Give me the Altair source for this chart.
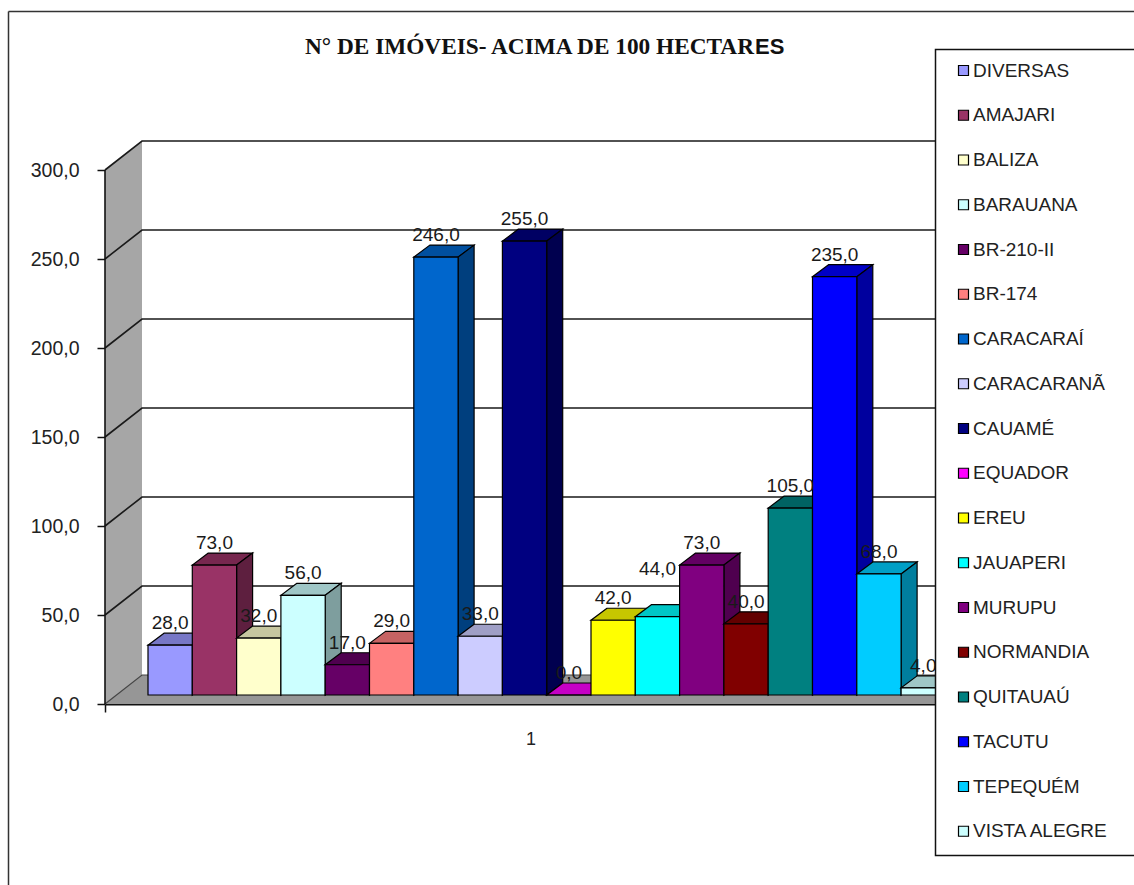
import altair as alt
import pandas as pd

# Series of the chart, one bar per municipality
names = ["DIVERSAS", "AMAJARI", "BALIZA", "BARAUANA", "BR-210-II", "BR-174",
         "CARACARAÍ", "CARACARANÃ", "CAUAMÉ", "EQUADOR", "EREU", "JAUAPERI",
         "MURUPU", "NORMANDIA", "QUITAUAÚ", "TACUTU", "TEPEQUÉM", "VISTA ALEGRE"]
values = [28, 73, 32, 56, 17, 29, 246, 33, 255, 0, 42, 44, 73, 40, 105, 235, 68, 4]
colors = ["#9999FF", "#993366", "#FFFFCC", "#CCFFFF", "#660066", "#FF8080",
          "#0066CC", "#CCCCFF", "#000080", "#FF00FF", "#FFFF00", "#00FFFF",
          "#800080", "#800000", "#008080", "#0000FF", "#00CCFF", "#CCFFFF"]
levels = [50, 100, 150, 200, 250, 300]
ticks = [0, 50, 100, 150, 200, 250, 300]

# Canvas layout, in pixels
LEFT, TOP, RIGHT, BOTTOM = 105, 140, 1134, 704
PX_X = 44.3          # one bar slot
PX_Y = 1.78          # one unit of the value axis
X0 = 148             # left edge of the first bar
WIDTH, HEIGHT = RIGHT - LEFT, BOTTOM - TOP


def sx(px):
    return (px - X0) / PX_X


def sy(px):
    return px / PX_Y


# 3D offsets expressed in axis units
WALL_X, WALL_Y = sx(142), sy(29)
AXIS_X = sx(LEFT)
END_X = sx(1000)
BAR_BASE = sy(9)
DEPTH_X, DEPTH_Y = 16 / PX_X, sy(12)
LABEL_LIFT = {"JAUAPERI": sy(26)}   # this label sits clear of its neighbour

x_scale = alt.Scale(domain=[sx(LEFT), sx(RIGHT)], nice=False, zero=False)
y_scale = alt.Scale(domain=[0, sy(HEIGHT)], nice=False, zero=False)
x_axis = alt.Axis(values=[AXIS_X], labels=False, title=None, tickSize=8, tickColor="#111111",
                  tickWidth=1.5, domainColor="#111111", domainWidth=2.2, grid=False, orient="bottom")
y_axis = alt.Axis(values=ticks, title=None, grid=False, domain=False, tickSize=8,
                  tickColor="#111111", tickWidth=1.5, labelFontSize=19.5,
                  labelFont="Liberation Sans", labelColor="#222222", labelPadding=18,
                  labelExpr="replace(format(datum.value, '.1f'), '.', ',')")
X = lambda f="x": alt.X(f"{f}:Q", scale=x_scale, axis=x_axis)
Y = lambda f="y": alt.Y(f"{f}:Q", scale=y_scale, axis=y_axis)


def shade(color, k):
    r, g, b = (int(color[i:i + 2], 16) for i in (1, 3, 5))
    return "#%02x%02x%02x" % (int(r * k), int(g * k), int(b * k))


fronts, tops, sides = [], [], []
for i, (n, v, c) in enumerate(zip(names, values, colors)):
    fronts.append(dict(name=n, x=i, x2=i + 1, y=BAR_BASE, y2=BAR_BASE + v,
                       label=f"{v},0", cx=i + 0.5,
                       ly=BAR_BASE + v + DEPTH_Y + LABEL_LIFT.get(n, 0)))
    for k in (0, 1):
        tops.append(dict(name=n, fill=shade(c, 0.78),
                         y=BAR_BASE + v + k * DEPTH_Y,
                         x=i + k * DEPTH_X, x2=i + 1 + k * DEPTH_X))
        sides.append(dict(name=n, fill=shade(c, 0.62),
                          x=i + 1 + k * DEPTH_X,
                          y=BAR_BASE + k * DEPTH_Y,
                          y2=BAR_BASE + v + k * DEPTH_Y))
fronts, tops, sides = map(pd.DataFrame, (fronts, tops, sides))

wall = pd.DataFrame([dict(x=AXIS_X, y=0, y2=300), dict(x=WALL_X, y=WALL_Y, y2=300 + WALL_Y)])
floor = pd.DataFrame([dict(y=0, x=AXIS_X, x2=END_X), dict(y=WALL_Y, x=WALL_X, x2=END_X)])
grid = pd.DataFrame([p for lv in levels for p in (
    dict(level=lv, order=0, x=AXIS_X, y=lv),
    dict(level=lv, order=1, x=WALL_X, y=lv + WALL_Y),
    dict(level=lv, order=2, x=END_X, y=lv + WALL_Y))])
back_floor = pd.DataFrame([dict(x=AXIS_X, y=0, o=0), dict(x=WALL_X, y=WALL_Y, o=1), dict(x=END_X, y=WALL_Y, o=2)])
axis_line = pd.DataFrame([dict(x=AXIS_X, y=0, y2=300)])

wall_mark = alt.Chart(wall).mark_area(orient="vertical", fill="#a6a6a6").encode(
    x=X(), y=Y(), y2="y2:Q")
floor_mark = alt.Chart(floor).mark_area(orient="horizontal", fill="#969696").encode(
    y=Y(), x=X(), x2="x2:Q")
grid_mark = alt.Chart(grid).mark_line(color="#1a1a1a", strokeWidth=1.6).encode(
    x=X(), y=Y(), detail="level:N", order="order:Q")
floor_line = alt.Chart(back_floor).mark_line(color="#444444", strokeWidth=1.2).encode(
    x=X(), y=Y(), order="o:Q")
axis_mark = alt.Chart(axis_line).mark_rule(color="#111111", strokeWidth=1.6).encode(
    x=X(), y=Y(), y2="y2:Q")

legend = alt.Legend(
    orient="none", legendX=849, legendY=-79, title=None,
    symbolType="square", symbolSize=100, symbolStrokeColor="#000000",
    symbolStrokeWidth=1.2, symbolOpacity=1, labelFontSize=19,
    labelFont="Liberation Sans", labelColor="#222222", labelOffset=0,
    rowPadding=24.75, labelLimit=220, padding=0, columns=1, values=names)

# Each bar is painted whole, left to right, so a bar hides the faces of the one before it
bar_layers = []
for n in names:
    bar_layers.append(alt.Chart(tops[tops.name == n]).mark_area(
        orient="horizontal", stroke="#000000", strokeWidth=1.2
    ).encode(y=Y(), x=X(), x2="x2:Q", fill=alt.Fill("fill:N", scale=None)))
    bar_layers.append(alt.Chart(sides[sides.name == n]).mark_area(
        orient="vertical", stroke="#000000", strokeWidth=1.2
    ).encode(x=X(), y=Y(), y2="y2:Q", fill=alt.Fill("fill:N", scale=None)))
    bar_layers.append(alt.Chart(fronts[fronts.name == n]).mark_rect(
        stroke="#000000", strokeWidth=1.2
    ).encode(
        x=X(), x2="x2:Q", y=Y(), y2="y2:Q",
        color=alt.Color("name:N", sort=names, scale=alt.Scale(domain=names, range=colors),
                        legend=legend)))

label_mark = alt.Chart(fronts).mark_text(
    fontSize=19, font="Liberation Sans", color="#1a1a1a", baseline="alphabetic", dy=-4, clip=False
).encode(x=X("cx"), y=Y("ly"), text="label:N")

category_label = alt.Chart(pd.DataFrame(dict(c=[sx(531)], y=[0], t=["1"]))).mark_text(
    fontSize=18, font="Liberation Sans", color="#222222", dy=36
).encode(x=X("c"), y=Y(), text="t:N")

# Outer frame and the box behind the legend
frame_left = alt.Chart(pd.DataFrame(dict(a=[0]))).mark_rule(color="#333333", strokeWidth=1.5, clip=False).encode(
    x=alt.value(8.5 - LEFT), y=alt.value(11.5 - TOP), y2=alt.value(900))
frame_top = alt.Chart(pd.DataFrame(dict(a=[0]))).mark_rule(color="#333333", strokeWidth=1.5, clip=False).encode(
    x=alt.value(8.5 - LEFT), x2=alt.value(1100), y=alt.value(11.5 - TOP))
legend_box = alt.Chart(pd.DataFrame(dict(a=[0]))).mark_rect(
    fill="#ffffff", stroke="#111111", strokeWidth=1.5, clip=False
).encode(x=alt.value(935.5 - LEFT), x2=alt.value(1150), y=alt.value(49.5 - TOP), y2=alt.value(855.5 - TOP))

title_main = alt.Chart(pd.DataFrame(dict(t=["N° DE IMÓVEIS- ACIMA DE 100 HECTAR"]))).mark_text(
    font="Liberation Serif", fontWeight="bold", fontSize=23.3, align="right", baseline="alphabetic",
    color="#111111", clip=False
).encode(x=alt.value(754 - LEFT), y=alt.value(54 - TOP), text="t:N")
title_tail = alt.Chart(pd.DataFrame(dict(t=["ES"]))).mark_text(
    font="Liberation Sans", fontWeight="bold", fontSize=22, align="left", baseline="alphabetic",
    color="#111111", clip=False
).encode(x=alt.value(755 - LEFT), y=alt.value(54 - TOP), text="t:N")

chart = alt.layer(
    wall_mark, floor_mark, grid_mark, floor_line, axis_mark,
    *bar_layers, label_mark, category_label,
    frame_left, frame_top, legend_box, title_main, title_tail,
).properties(
    width=WIDTH, height=HEIGHT,
    autosize=alt.AutoSizeParams(type="none"),
    padding=dict(left=LEFT, top=TOP, right=0, bottom=885 - BOTTOM),
    background="#ffffff",
).configure_view(stroke=None)

chart.save("out.html", embed_options={"renderer": "svg", "actions": False})
